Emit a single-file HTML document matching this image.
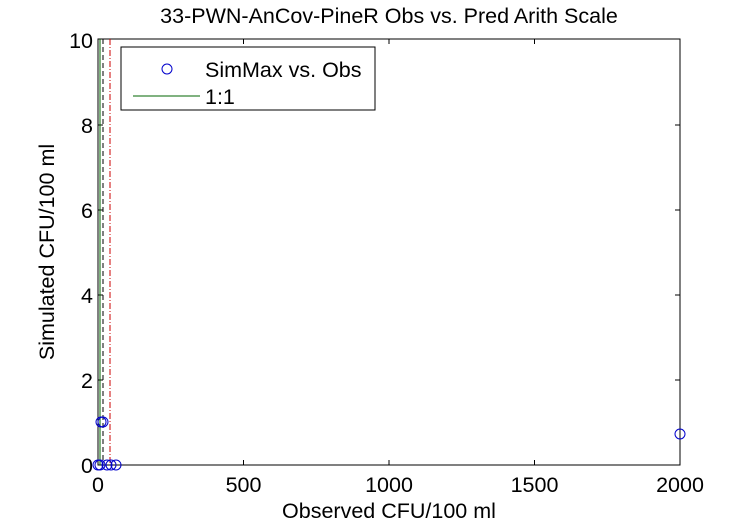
<!DOCTYPE html><html><head><style>body{margin:0;background:#fff}svg{font-family:"Liberation Sans",sans-serif}</style></head><body>
<svg width="750" height="525" xmlns="http://www.w3.org/2000/svg">
<rect width="750" height="525" fill="#fff"/>
<rect x="98" y="39" width="582" height="426" fill="none" stroke="#000"/>
<g stroke="#000">
<line x1="243.5" y1="465" x2="243.5" y2="460"/><line x1="389" y1="465" x2="389" y2="460"/><line x1="534.5" y1="465" x2="534.5" y2="460"/>
<line x1="243.5" y1="39" x2="243.5" y2="44"/><line x1="389" y1="39" x2="389" y2="44"/><line x1="534.5" y1="39" x2="534.5" y2="44"/>
<line x1="98" y1="380" x2="103" y2="380"/><line x1="98" y1="295" x2="103" y2="295"/><line x1="98" y1="210" x2="103" y2="210"/><line x1="98" y1="125" x2="103" y2="125"/>
<line x1="680" y1="380" x2="675" y2="380"/><line x1="680" y1="295" x2="675" y2="295"/><line x1="680" y1="210" x2="675" y2="210"/><line x1="680" y1="125" x2="675" y2="125"/>
</g>
<line x1="100" y1="39" x2="100" y2="465" stroke="#006400"/>
<line x1="103" y1="39" x2="103" y2="465" stroke="#000" stroke-dasharray="5,3"/>
<line x1="110" y1="39" x2="110" y2="465" stroke="#c00" stroke-dasharray="6,2,1,2"/>
<g fill="none" stroke="#00c" stroke-width="1">
<circle cx="98" cy="465" r="5"/><circle cx="100" cy="465" r="5"/><circle cx="107" cy="465" r="5"/><circle cx="111" cy="465" r="5"/><circle cx="116" cy="465" r="5"/>
<circle cx="101" cy="422" r="5"/><circle cx="103" cy="422" r="5"/><circle cx="680" cy="434" r="5"/>
</g>
<rect x="121" y="47" width="254" height="63" fill="#fff" stroke="#000"/>
<circle cx="167" cy="69" r="5" fill="none" stroke="#00c"/>
<line x1="133" y1="96" x2="200" y2="96" stroke="#006400"/>
<text x="205" y="77" font-size="21.5">SimMax vs. Obs</text>
<text x="205" y="104" font-size="21.5">1:1</text>
<g font-size="21.5" text-anchor="middle">
<text x="98" y="492">0</text><text x="243.5" y="492">500</text><text x="389" y="492">1000</text><text x="534.5" y="492">1500</text><text x="680" y="492">2000</text>
</g>
<g font-size="21.5" text-anchor="end">
<text x="93" y="473">0</text><text x="93" y="388">2</text><text x="93" y="303">4</text><text x="93" y="218">6</text><text x="93" y="133">8</text><text x="93" y="48">10</text>
</g>
<text x="389" y="518" font-size="21.5" text-anchor="middle">Observed CFU/100 ml</text>
<text x="389" y="23" font-size="21.5" text-anchor="middle">33-PWN-AnCov-PineR Obs vs. Pred Arith Scale</text>
<text transform="translate(54,252) rotate(-90)" font-size="21.5" text-anchor="middle">Simulated CFU/100 ml</text>
</svg></body></html>
